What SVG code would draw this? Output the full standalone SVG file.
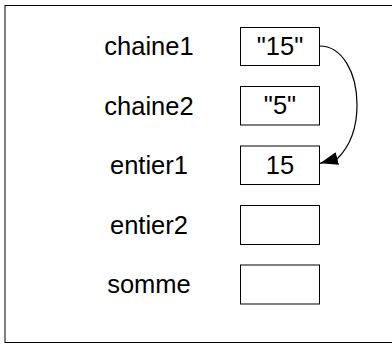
<svg xmlns="http://www.w3.org/2000/svg" width="392" height="344" viewBox="0 0 392 344">
<style>
.lbl{font-family:"Liberation Sans",Arial,sans-serif;font-size:25.5px;fill:#000;text-anchor:middle}
.box{fill:#fff;stroke:#000;stroke-width:1}
.conn{fill:none;stroke:#000;stroke-width:1.2}
</style>
<defs>
<marker id="ah" markerUnits="userSpaceOnUse" viewBox="0 0 18 13" refX="18" refY="6.5" markerWidth="18" markerHeight="13" orient="auto">
<path d="M0,0 L18,6.5 L0,13 z" fill="#000"/>
</marker>
</defs>
<rect x="0" y="0" width="392" height="344" fill="#fff"/>
<rect x="5" y="5.5" width="400" height="337" fill="none" stroke="#000" stroke-width="1"/>
<g id="chaine1">
<text class="lbl" x="149" y="55">chaine1</text>
<rect class="box" x="240.5" y="27.5" width="79" height="38"/>
<text class="lbl" x="280" y="54.5">"15"</text>
</g>
<g id="chaine2">
<text class="lbl" x="149" y="114.5">chaine2</text>
<rect class="box" x="240.5" y="86.5" width="79" height="38.5"/>
<text class="lbl" x="280" y="114">"5"</text>
</g>
<g id="entier1">
<text class="lbl" x="149" y="174">entier1</text>
<rect class="box" x="240.5" y="146" width="79" height="38.5"/>
<text class="lbl" x="280" y="173.5">15</text>
</g>
<g id="entier2">
<text class="lbl" x="149" y="233.5">entier2</text>
<rect class="box" x="240.5" y="205.5" width="79" height="39"/>
</g>
<g id="somme">
<text class="lbl" x="149" y="293">somme</text>
<rect class="box" x="240.5" y="265" width="79" height="39"/>
</g>
<g id="connectors">
<path class="conn" d="M319.5,46 C342,46 357,72 357,105 C357,128 350,146 337.5,158.5 L320,163.3" marker-end="url(#ah)"/>
</g>
</svg>
